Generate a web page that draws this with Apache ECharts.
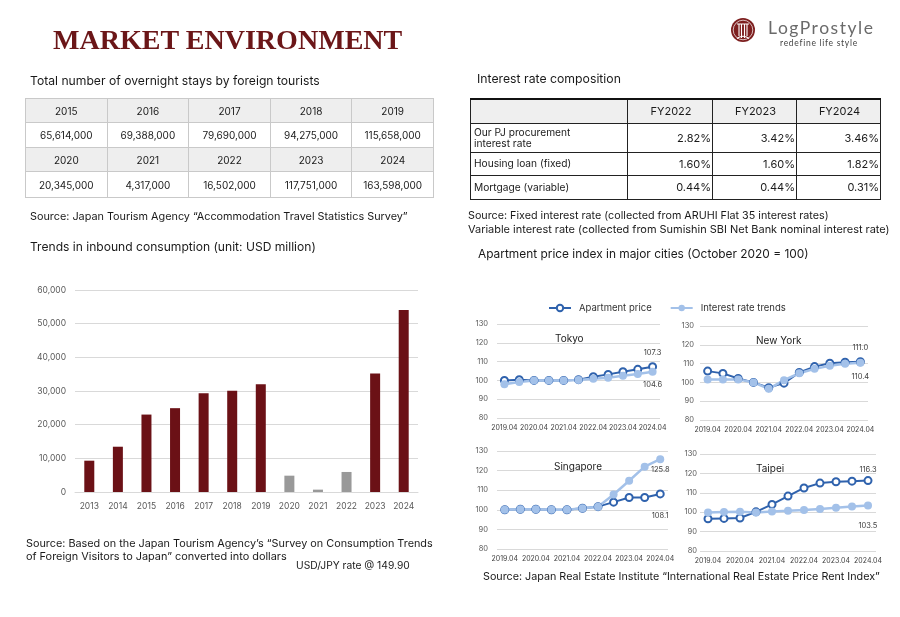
<!DOCTYPE html>
<html><head><meta charset="utf-8">
<script src="https://cdn.jsdelivr.net/npm/echarts@6/dist/echarts.min.js"></script>
<style>
html,body{margin:0;padding:0;background:#fff;}
#page{position:relative;width:900px;height:617px;overflow:hidden;font-family:Inter,'Open Sans',sans-serif;color:#1a1a1a;}
#chart{position:absolute;left:0;top:0;width:900px;height:617px;}
.t{position:absolute;white-space:nowrap;line-height:1;}
table{position:absolute;border-collapse:collapse;table-layout:fixed;}
#stays td{border:1px solid #c9c9c9;text-align:center;font-size:10px;padding:0;color:#1a1a1a;}
#stays tr.h td{background:#eeeeee;}
#rates td{border:1px solid #222;font-size:10.5px;padding:0 1px 0 3px;color:#1a1a1a;}
#rates tr.h td{background:#efefef;text-align:center;border-top:2px solid #111;font-size:11px;}
#rates td.v{text-align:right;font-size:11px;}
#rates td.l{white-space:pre-line;line-height:1.05;font-size:10.2px;}
</style></head><body>
<div id="page"><div id="chart"></div>
<svg style="position:absolute;left:730px;top:17px" width="26" height="26" viewBox="0 0 26 26">
<circle cx="13" cy="13" r="12" fill="#7d1f1f"/>
<circle cx="13" cy="13" r="9.8" fill="none" stroke="#fff" stroke-width="0.7"/>
<path d="M7 7 H19 M9 7 V19 M11.5 7 V21 M14.5 7 V21 M17 7 V19 M7 21.5 Q13 17 19 21.5" stroke="#fff" stroke-width="1.1" fill="none"/>
</svg>
</div>
<script>
// ---------------- DATA ----------------
const stayYears1 = ['2015', '2016', '2017', '2018', '2019'];
const stayValues1 = ['65,614,000', '69,388,000', '79,690,000', '94,275,000', '115,658,000'];
const stayYears2 = ['2020', '2021', '2022', '2023', '2024'];
const stayValues2 = ['20,345,000', '4,317,000', '16,502,000', '117,751,000', '163,598,000'];

const rateHeaders = ['FY2022', 'FY2023', 'FY2024'];
const rateLabels = ['Our PJ procurement\ninterest rate', 'Housing loan (fixed)', 'Mortgage (variable)'];
const rateValues = [
  ['2.82%', '3.42%', '3.46%'],
  ['1.60%', '1.60%', '1.82%'],
  ['0.44%', '0.44%', '0.31%']
];

const barYears = ['2013', '2014', '2015', '2016', '2017', '2018', '2019', '2020', '2021', '2022', '2023', '2024'];
const barValues = [9300, 13450, 23000, 24900, 29350, 30050, 32000, 4850, 700, 5950, 35200, 54050];
const covidYears = ['2020', '2021', '2022'];

const periods = ['2019.04', '2019.10', '2020.04', '2020.10', '2021.04', '2021.10', '2022.04', '2022.10', '2023.04', '2023.10', '2024.04'];
const tokyoApartment = [100.0, 100.4, 100.0, 100.0, 100.0, 100.4, 102.0, 103.2, 104.6, 105.9, 107.3];
const tokyoRate      = [97.9, 99.1, 100.0, 100.0, 100.0, 100.2, 100.9, 101.4, 102.5, 103.4, 104.6];
const newYorkApartment = [106.0, 104.8, 102.1, 100.0, 97.2, 99.6, 105.3, 108.4, 110.2, 110.7, 111.0];
const newYorkRate      = [101.6, 101.6, 101.6, 100.0, 96.6, 101.2, 104.9, 107.2, 108.8, 109.9, 110.4];
const singaporeApartment = [100.0, 100.3, 100.3, 100.0, 100.0, 100.8, 101.6, 103.9, 106.3, 106.3, 108.1];
const singaporeRate      = [100.0, 100.3, 100.3, 100.0, 100.0, 100.8, 101.6, 107.8, 114.8, 122.0, 125.8];
const taipeiApartment = [96.6, 96.8, 97.0, 100.2, 104.0, 108.3, 112.5, 115.0, 115.7, 116.0, 116.3];
const taipeiRate      = [99.9, 100.1, 100.2, 99.9, 100.4, 100.7, 101.1, 101.7, 102.3, 102.9, 103.5];

// ---------------- TEXT ----------------
const FONT = "Inter, 'Open Sans', sans-serif";
const page = document.getElementById('page');
const mctx = document.createElement('canvas').getContext('2d');
function addText(o) {
  const fam = o.family || FONT;
  const wt = o.weight || 400;
  const st = o.style || 'normal';
  mctx.font = st + ' ' + wt + ' 100px ' + fam;
  const m100 = mctx.measureText(o.text).width;
  let size, ls = 0;
  if (o.size) {
    size = o.size;
    ls = (o.w - m100 * size / 100) / (o.text.length - 1);
  } else {
    size = 100 * o.w / m100;
  }
  const d = document.createElement('div');
  d.className = 't';
  d.textContent = o.text;
  d.style.fontFamily = fam;
  d.style.fontWeight = wt;
  d.style.fontStyle = st;
  d.style.fontSize = size + 'px';
  d.style.letterSpacing = ls + 'px';
  d.style.left = o.x + 'px';
  d.style.top = (o.y - size * 0.55) + 'px';
  d.style.color = o.color || '#1a1a1a';
  page.appendChild(d);
}
const texts = [
  {text: 'MARKET ENVIRONMENT', x: 53, y: 41, w: 350, family: "'Liberation Serif','DejaVu Serif',serif", weight: 700, color: '#6b1618'},
  {text: 'LogProstyle', x: 768, y: 29, w: 105, size: 17.5, family: "Lato,'Open Sans',sans-serif", weight: 400, color: '#6a6a6a'},
  {text: 'redefine life style', x: 780, y: 44, w: 77, size: 8.5, family: "Lato,'Open Sans',sans-serif", color: '#444'},
  {text: 'Total number of overnight stays by foreign tourists', x: 30, y: 82, w: 290},
  {text: 'Interest rate composition', x: 477, y: 80, w: 144},
  {text: 'Source: Japan Tourism Agency \u201cAccommodation Travel Statistics Survey\u201d', x: 30, y: 218, w: 378},
  {text: 'Trends in inbound consumption (unit: USD million)', x: 30, y: 248, w: 286},
  {text: 'Source: Fixed interest rate (collected from ARUHI Flat 35 interest rates)', x: 468, y: 217, w: 361},
  {text: 'Variable interest rate (collected from Sumishin SBI Net Bank nominal interest rate)', x: 468, y: 230, w: 422},
  {text: 'Apartment price index in major cities (October 2020 = 100)', x: 478, y: 255, w: 331},
  {text: 'Source: Based on the Japan Tourism Agency\u2019s \u201cSurvey on Consumption Trends', x: 26, y: 545, w: 407},
  {text: 'of Foreign Visitors to Japan\u201d converted into dollars', x: 26, y: 557, w: 261},
  {text: 'USD/JPY rate @ 149.90', x: 296, y: 566, w: 114},
  {text: 'Source: Japan Real Estate Institute \u201cInternational Real Estate Price Rent Index\u201d', x: 483, y: 578, w: 397}
];
texts.forEach(addText);

// ---------------- TABLES ----------------
function el(tag, attrs, parent) {
  const e = document.createElement(tag);
  Object.assign(e, attrs || {});
  if (parent) parent.appendChild(e);
  return e;
}
const stays = el('table', {id: 'stays'}, page);
stays.style.left = '25px'; stays.style.top = '98px'; stays.style.width = '409px';
[[stayYears1, 24, true], [stayValues1, 25, false], [stayYears2, 24, true], [stayValues2, 26, false]].forEach(([arr, h, isH]) => {
  const tr = el('tr', {}, stays);
  if (isH) tr.className = 'h';
  tr.style.height = h + 'px';
  arr.forEach(v => { el('td', {textContent: v}, tr); });
});

const rates = el('table', {id: 'rates'}, page);
rates.style.left = '470px'; rates.style.top = '98px'; rates.style.width = '410px';
const cg = el('colgroup', {}, rates);
[157, 85, 84, 84].forEach(w => { const c = el('col', {}, cg); c.style.width = w + 'px'; });
const hr = el('tr', {className: 'h'}, rates);
hr.style.height = '24px';
el('td', {textContent: ''}, hr);
rateHeaders.forEach(h => el('td', {textContent: h}, hr));
const rowH = [29, 23, 24];
rateLabels.forEach((lab, i) => {
  const tr = el('tr', {}, rates);
  tr.style.height = rowH[i] + 'px';
  el('td', {textContent: lab, className: 'l'}, tr);
  rateValues[i].forEach(v => el('td', {textContent: v, className: 'v'}, tr));
});

// ---------------- CHARTS ----------------
const chart = echarts.init(document.getElementById('chart'));
const DARK_RED = '#6b1116', GRAY = '#999999';
const DARK_BLUE = '#2f62ad', LIGHT_BLUE = '#a3c1e9';
const AXIS_TXT = '#595959', GRID_LINE = '#d9d9d9';

const cities = [
  {name: 'Tokyo', apt: tokyoApartment, rate: tokyoRate, grid: {left: 497, top: 324, width: 163, height: 94}, ym: 9, title: [550, 329],
   aptLbl: {position: 'top', distance: 5}, rateLbl: {position: 'bottom', distance: 5}},
  {name: 'New York', apt: newYorkApartment, rate: newYorkRate, grid: {left: 700, top: 326, width: 168, height: 94}, ym: 6, title: [751, 331],
   aptLbl: {position: 'top', distance: 5}, rateLbl: {position: 'bottom', distance: 6}},
  {name: 'Singapore', apt: singaporeApartment, rate: singaporeRate, grid: {left: 497, top: 451, width: 171, height: 98}, ym: 9, title: [549, 457],
   aptLbl: {position: 'bottom', distance: 13}, rateLbl: {position: 'bottom', distance: 3}},
  {name: 'Taipei', apt: taipeiApartment, rate: taipeiRate, grid: {left: 700, top: 454, width: 176, height: 97}, ym: 3, title: [751, 459],
   aptLbl: {position: 'top', distance: 2}, rateLbl: {position: 'bottom', distance: 12}}
];

const grids = [{left: 75, top: 290, width: 343, height: 202}];
const xAxes = [{
  type: 'category', gridIndex: 0, data: barYears,
  axisLine: {lineStyle: {color: GRID_LINE}}, axisTick: {show: false},
  axisLabel: {color: AXIS_TXT, fontSize: 8.5, margin: 10, fontFamily: FONT}
}];
const yAxes = [{
  type: 'value', gridIndex: 0, min: 0, max: 60000, interval: 10000,
  axisLine: {show: false}, axisTick: {show: false},
  splitLine: {lineStyle: {color: GRID_LINE}},
  axisLabel: {color: AXIS_TXT, fontSize: 8.5, margin: 9, fontFamily: FONT, formatter: v => v.toLocaleString('en-US')}
}];
const series = [{
  type: 'bar', xAxisIndex: 0, yAxisIndex: 0, barWidth: 10,
  data: barValues.map((v, i) => ({value: v, itemStyle: {color: covidYears.includes(barYears[i]) ? GRAY : DARK_RED}}))
}];
const titles = [];

function lastLabel(arr, cfg) {
  return arr.map((v, i) => i === arr.length - 1
    ? {value: v, label: Object.assign({show: true, color: '#404040', fontSize: 7.5, fontFamily: FONT, formatter: p => p.value.toFixed(1)}, cfg)}
    : v);
}

cities.forEach((c, k) => {
  const gi = k + 1;
  grids.push(c.grid);
  xAxes.push({
    type: 'category', gridIndex: gi, data: periods,
    axisLine: {show: false}, axisTick: {show: false},
    axisLabel: {interval: 1, color: '#404040', fontSize: 7, margin: 6, fontFamily: FONT}
  });
  yAxes.push({
    type: 'value', gridIndex: gi, min: 80, max: 130, interval: 10,
    axisLine: {show: false}, axisTick: {show: false},
    splitLine: {lineStyle: {color: GRID_LINE}},
    axisLabel: {color: AXIS_TXT, fontSize: 7.5, margin: c.ym, fontFamily: FONT}
  });
  series.push({
    name: 'Apartment price', type: 'line', xAxisIndex: gi, yAxisIndex: gi,
    symbol: 'emptyCircle', symbolSize: 7,
    lineStyle: {color: DARK_BLUE, width: 2},
    itemStyle: {color: DARK_BLUE, borderWidth: 1.5},
    data: lastLabel(c.apt, c.aptLbl)
  });
  series.push({
    name: 'Interest rate trends', type: 'line', xAxisIndex: gi, yAxisIndex: gi,
    symbol: 'circle', symbolSize: 8,
    lineStyle: {color: LIGHT_BLUE, width: 2.5},
    itemStyle: {color: LIGHT_BLUE},
    data: lastLabel(c.rate, c.rateLbl)
  });
  titles.push({text: c.name, left: c.title[0], top: c.title[1], textStyle: {fontSize: 10, fontWeight: 'normal', color: '#222', fontFamily: FONT}});
});

chart.setOption({
  animation: false,
  textStyle: {fontFamily: FONT},
  title: titles,
  legend: {
    data: ['Apartment price', 'Interest rate trends'],
    left: 543, top: 298, itemWidth: 22, itemHeight: 8, itemGap: 18,
    textStyle: {fontSize: 9.5, color: '#333', fontFamily: FONT, padding: [0, 0, 0, 3]}
  },
  grid: grids,
  xAxis: xAxes,
  yAxis: yAxes,
  series: series
});
</script>
</body></html>
